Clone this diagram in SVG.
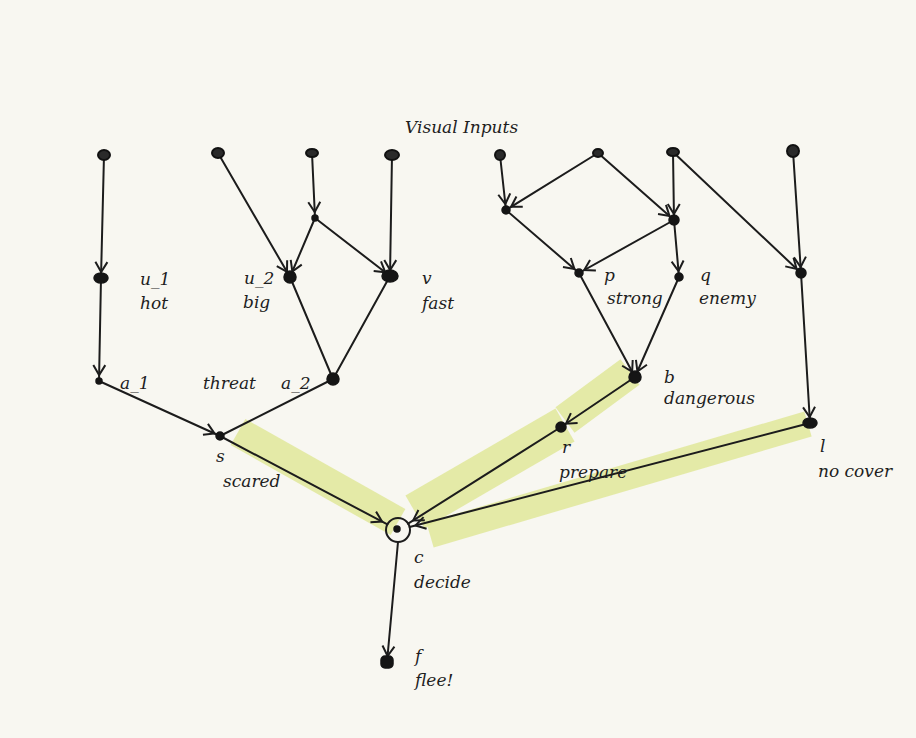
<svg xmlns="http://www.w3.org/2000/svg" width="916" height="738" viewBox="0 0 916 738">
<style>
.e{stroke:#1c1c1c;stroke-width:2;fill:none;stroke-linecap:round}
.a{marker-end:url(#arr)}
.hl{stroke:#e0e79a;stroke-opacity:0.85;fill:none;stroke-linecap:butt}
.n{fill:#151515;stroke:#151515;stroke-width:1.5}
.in{fill:#2a2a2a;stroke:#111;stroke-width:2}
.t{font-family:"DejaVu Serif",serif;font-style:italic;font-size:17px;fill:#1e1e1e}
</style>
<defs>
<marker id="arr" markerUnits="userSpaceOnUse" markerWidth="16" markerHeight="16" viewBox="0 0 16 16" refX="18" refY="8" orient="auto">
<path d="M2,2 L12,8 L2,14" fill="none" stroke="#1c1c1c" stroke-width="2"/>
</marker>
</defs>
<rect width="916" height="738" fill="#f8f7f1"/>
<g id="highlights">
<path class="hl" d="M238,432 L398,522" stroke-width="30"/>
<path class="hl" d="M630,372 L565,420" stroke-width="32"/>
<path class="hl" d="M565,425 L415,512" stroke-width="38"/>
<path class="hl" d="M808,424 L430,535" stroke-width="26"/>
</g>
<g id="connectors">
<line class="e a" x1="104" y1="155" x2="101" y2="278"/>
<line class="e a" x1="101" y1="278" x2="99" y2="381"/>
<line class="e a" x1="218" y1="153" x2="290" y2="277"/>
<line class="e a" x1="312" y1="153" x2="315" y2="218"/>
<line class="e a" x1="315" y1="218" x2="290" y2="277"/>
<line class="e a" x1="315" y1="218" x2="390" y2="276"/>
<line class="e a" x1="392" y1="155" x2="390" y2="276"/>
<line class="e" x1="290" y1="277" x2="333" y2="379"/>
<line class="e" x1="390" y1="276" x2="333" y2="379"/>
<line class="e a" x1="99" y1="381" x2="220" y2="436"/>
<line class="e" x1="333" y1="379" x2="220" y2="436"/>
<line class="e a" x1="220" y1="436" x2="387.4" y2="524.4"/>
<line class="e a" x1="500" y1="155" x2="506" y2="210"/>
<line class="e a" x1="598" y1="153" x2="506" y2="210"/>
<line class="e a" x1="598" y1="153" x2="674" y2="220"/>
<line class="e a" x1="673" y1="152" x2="674" y2="220"/>
<line class="e a" x1="506" y1="210" x2="579" y2="273"/>
<line class="e a" x1="674" y1="220" x2="579" y2="273"/>
<line class="e a" x1="674" y1="220" x2="679" y2="277"/>
<line class="e a" x1="673" y1="152" x2="801" y2="273"/>
<line class="e a" x1="793" y1="151" x2="801" y2="273"/>
<line class="e a" x1="579" y1="273" x2="635" y2="377"/>
<line class="e a" x1="679" y1="277" x2="635" y2="377"/>
<line class="e a" x1="801" y1="273" x2="810" y2="423"/>
<line class="e a" x1="635" y1="377" x2="561" y2="427"/>
<line class="e a" x1="561" y1="427" x2="408.1" y2="523.6"/>
<line class="e a" x1="810" y1="423" x2="409.6" y2="527"/>
<line class="e a" x1="398" y1="542" x2="387" y2="662"/>
</g>
<g id="in1"><ellipse class="in" cx="104" cy="155" rx="6" ry="5"/></g>
<g id="in2"><ellipse class="in" cx="218" cy="153" rx="6" ry="5" fill="none"/></g>
<g id="in3"><ellipse class="in" cx="312" cy="153" rx="6" ry="4"/></g>
<g id="in4"><ellipse class="in" cx="392" cy="155" rx="7" ry="5"/></g>
<g id="in5"><ellipse class="in" cx="500" cy="155" rx="5" ry="5"/></g>
<g id="in6"><ellipse class="in" cx="598" cy="153" rx="5" ry="4"/></g>
<g id="in7"><ellipse class="in" cx="673" cy="152" rx="6" ry="4"/></g>
<g id="in8"><ellipse class="in" cx="793" cy="151" rx="6" ry="6" fill="none"/></g>
<g id="h1"><circle class="n" cx="315" cy="218" r="3"/></g>
<g id="n1"><circle class="n" cx="506" cy="210" r="4"/></g>
<g id="n2"><circle class="n" cx="674" cy="220" r="5"/></g>
<g id="n3"><circle class="n" cx="801" cy="273" r="5"/></g>
<g id="u1"><ellipse class="n" cx="101" cy="278" rx="7" ry="5"/><text class="t" x="140" y="285">u_1</text><text class="t" x="140" y="309">hot</text></g>
<g id="u2"><ellipse class="n" cx="290" cy="277" rx="6" ry="6"/><text class="t" x="244" y="284">u_2</text><text class="t" x="243" y="308">big</text></g>
<g id="v"><ellipse class="n" cx="390" cy="276" rx="8" ry="6"/><text class="t" x="422" y="284">v</text><text class="t" x="422" y="309">fast</text></g>
<g id="a1"><circle class="n" cx="99" cy="381" r="3"/><text class="t" x="120" y="389">a_1</text></g>
<g id="threat"><text class="t" x="203" y="389">threat</text></g>
<g id="a2"><circle class="n" cx="333" cy="379" r="6"/><text class="t" x="281" y="389">a_2</text></g>
<g id="s"><circle class="n" cx="220" cy="436" r="4"/><text class="t" x="216" y="462">s</text><text class="t" x="223" y="487">scared</text></g>
<g id="p"><circle class="n" cx="579" cy="273" r="4"/><text class="t" x="604" y="281">p</text><text class="t" x="607" y="304">strong</text></g>
<g id="q"><circle class="n" cx="679" cy="277" r="4"/><text class="t" x="700" y="281">q</text><text class="t" x="699" y="304">enemy</text></g>
<g id="b"><circle class="n" cx="635" cy="377" r="6"/><text class="t" x="664" y="383">b</text><text class="t" x="664" y="404">dangerous</text></g>
<g id="r"><circle class="n" cx="561" cy="427" r="5"/><text class="t" x="562" y="453">r</text><text class="t" x="559" y="478">prepare</text></g>
<g id="l"><ellipse class="n" cx="810" cy="423" rx="7" ry="5"/><text class="t" x="820" y="452">l</text><text class="t" x="818" y="477">no cover</text></g>
<g id="c"><circle cx="398" cy="530" r="12" fill="none" stroke="#1c1c1c" stroke-width="2"/><circle class="n" cx="397" cy="529" r="3"/><text class="t" x="414" y="563">c</text><text class="t" x="414" y="588">decide</text></g>
<g id="f"><rect class="n" x="381" y="656" width="12" height="12" rx="4"/><text class="t" x="415" y="662">f</text><text class="t" x="415" y="686">flee!</text></g>
<g id="title"><text class="t" x="405" y="133">Visual Inputs</text></g>
</svg>
